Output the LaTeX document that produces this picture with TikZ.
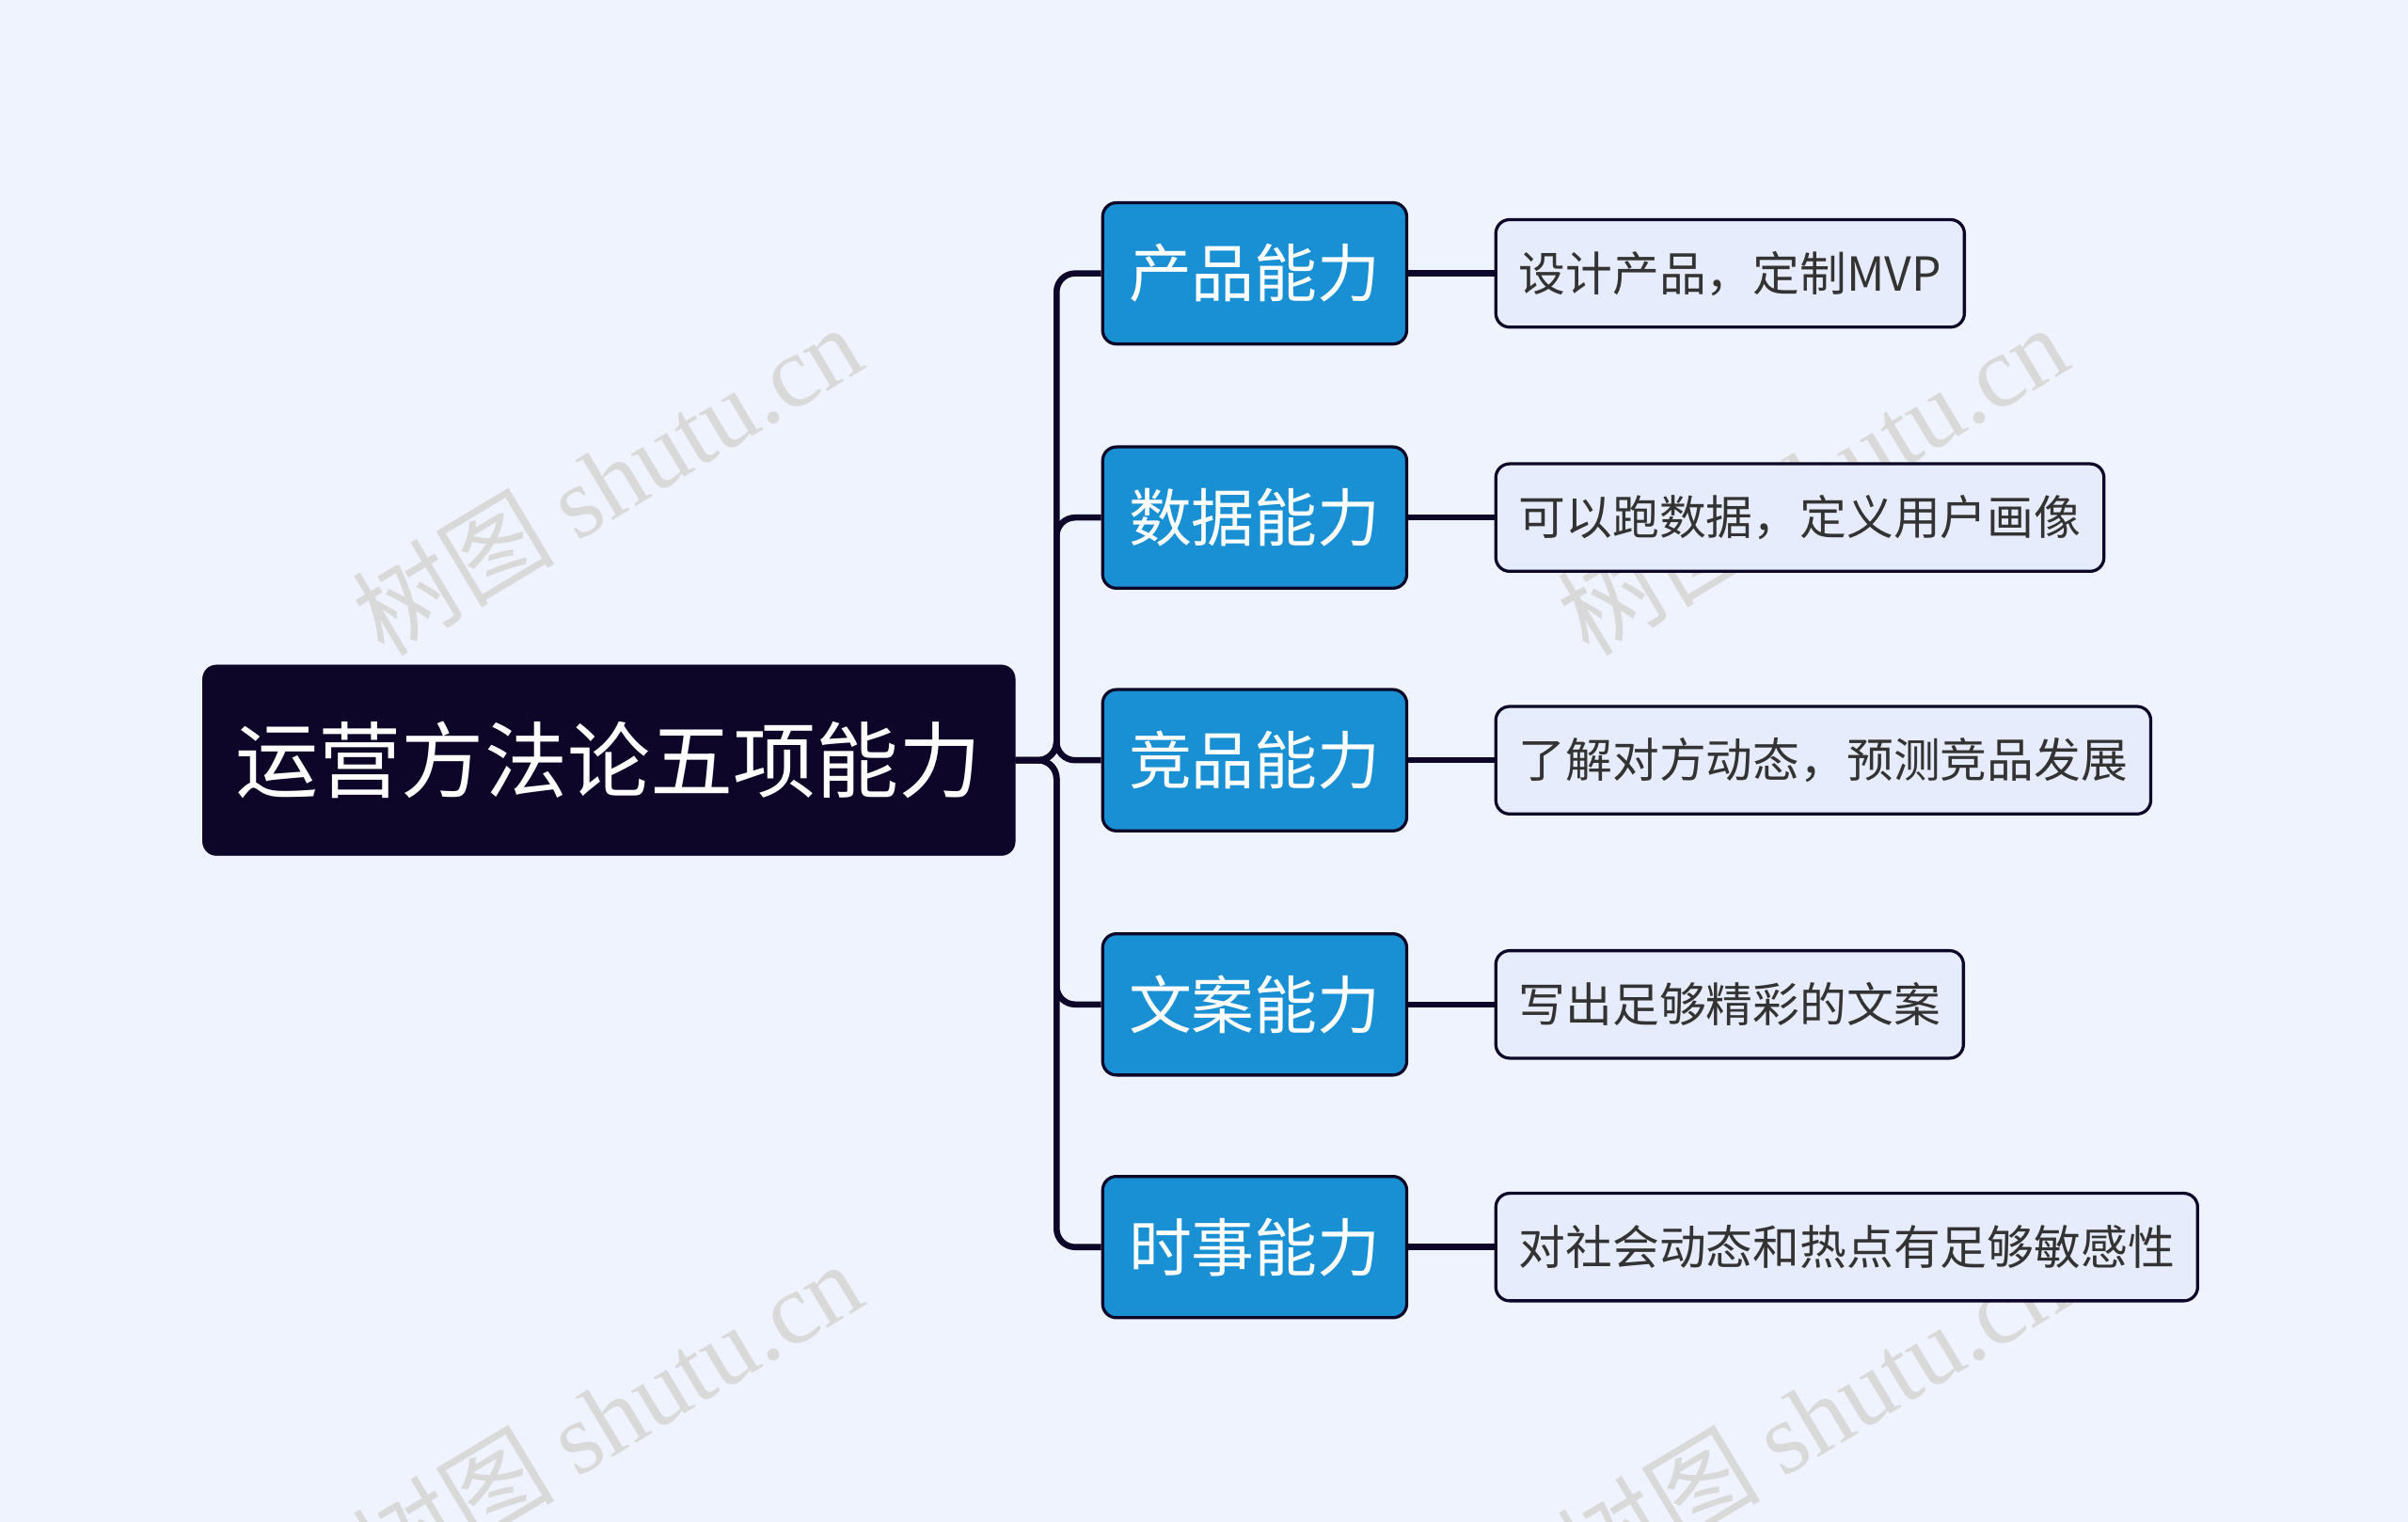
\documentclass[tikz,border=0pt]{standalone}
\usepackage{fontspec}
\setmainfont{Noto Sans CJK SC}
\newfontfamily\wmfont{Liberation Serif}
\newfontfamily\wmcjk{Noto Sans CJK SC}
\definecolor{bg}{HTML}{EEF3FE}
\definecolor{rootc}{HTML}{0D0628}
\definecolor{brc}{HTML}{1A90D4}
\definecolor{leafc}{HTML}{E6ECFB}
\definecolor{txt}{HTML}{333333}
\begin{document}
\begin{tikzpicture}[x=1pt,y=-1pt,
  rootbox/.style={draw=rootc,fill=rootc,rounded corners=9pt,minimum width=529pt,minimum height=124pt,text=white,font=\fontsize{54}{60}\selectfont,inner sep=0pt},
  brbox/.style={draw=rootc,line width=2pt,fill=brc,rounded corners=9pt,minimum width=198pt,minimum height=92pt,text=white,font=\fontsize{41}{46}\selectfont,inner sep=0pt},
  leafbox/.style={draw=rootc,line width=2pt,fill=leafc,rounded corners=9pt,minimum height=70pt,text=txt,font=\fontsize{30.5}{35}\selectfont,inner xsep=15pt,anchor=west},
  conn/.style={draw=rootc,line width=4pt},
  wm/.style={text=gray!30,rotate=31,font=\fontsize{66}{66}\selectfont}]
\fill[bg] (0,0) rectangle (1568,991);
\useasboundingbox (0,0) rectangle (1568,991);
\node[wm] (w1) at (395,312) {\wmcjk 树图 \wmfont shutu.cn};
\node[wm] (w2) at (1180,312) {\wmcjk 树图 \wmfont shutu.cn};
\node[wm] (w3) at (395,922) {\wmcjk 树图 \wmfont shutu.cn};
\node[wm] (w4) at (1180,922) {\wmcjk 树图 \wmfont shutu.cn};
\node[rootbox] (r) at (396.5,495) {运营方法论五项能力};
\foreach \i/\y/\b/\l in {1/178/产品能力/{设计产品，定制MVP},2/337/数据能力/{可以跑数据，定义用户画像},3/495/竞品能力/{了解对方动态，预测竞品发展},4/654/文案能力/{写出足够精彩的文案},5/812/时事能力/{对社会动态和热点有足够敏感性}}{
  \node[brbox] (b\i) at (817,\y) {\b};
  \node[leafbox] (l\i) at (973,\y) {\l};
  \draw[conn,rounded corners=12pt] (r.east) -- (688,495) -- (688,\y) -- (b\i.west);
  \draw[conn] (b\i.east) -- (l\i.west);
}
\end{tikzpicture}
\end{document}
